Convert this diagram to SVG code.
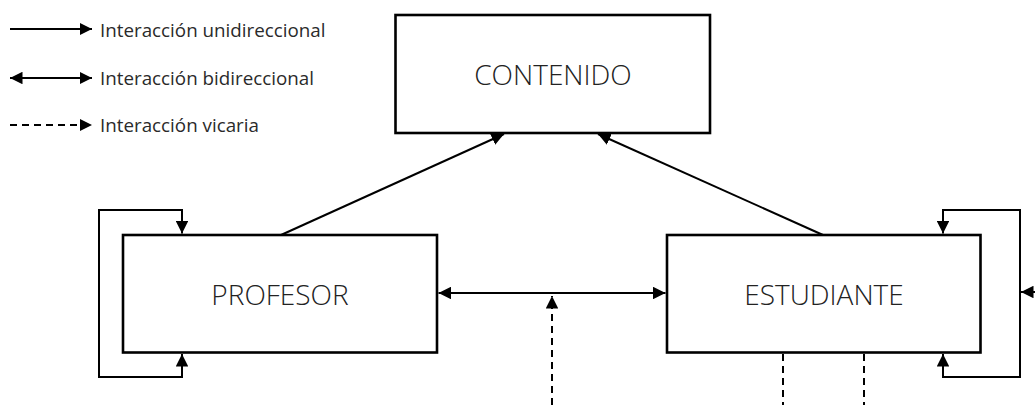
<svg xmlns="http://www.w3.org/2000/svg" width="1035" height="405" viewBox="0 0 1035 405">
<style>
.box{fill:#fff;stroke:#000;stroke-width:2.6}
.lbl{font-family:"Open Sans","Liberation Sans",sans-serif;font-weight:300;font-size:28px;fill:#222;text-anchor:middle;dominant-baseline:central}
.leg{font-family:"Open Sans","Liberation Sans",sans-serif;font-size:18.8px;fill:#2a2a2a}
.c{fill:none;stroke:#000;stroke-width:2}
.d{stroke-dasharray:7 5}
</style>
<defs>
<marker id="ah" viewBox="0 0 12 12" refX="12" refY="6" markerWidth="12.5" markerHeight="12.5" markerUnits="userSpaceOnUse" orient="auto-start-reverse">
<path d="M0,0 L12,6 L0,12 z" fill="#000"/>
</marker>
</defs>
<g id="legend">
<path class="c" d="M10,29 L92,29" marker-end="url(#ah)"/>
<text class="leg" x="100" y="37">Interacción unidireccional</text>
<path class="c" d="M10,78 L92,78" marker-start="url(#ah)" marker-end="url(#ah)"/>
<text class="leg" x="100" y="85">Interacción bidireccional</text>
<path class="c d" d="M10,125 L92,125" marker-end="url(#ah)"/>
<text class="leg" x="100" y="132">Interacción vicaria</text>
</g>
<g id="contenido">
<rect class="box" x="395.5" y="15" width="314.5" height="118"/>
<text class="lbl" x="553" y="74">CONTENIDO</text>
</g>
<g id="profesor">
<rect class="box" x="123" y="235" width="314" height="117.5"/>
<text class="lbl" x="280" y="294">PROFESOR</text>
</g>
<g id="estudiante">
<rect class="box" x="667" y="235" width="313.5" height="117.5"/>
<text class="lbl" x="824" y="294">ESTUDIANTE</text>
</g>
<g id="connectors">
<path class="c" d="M281,235 L504,134" marker-end="url(#ah)"/>
<path class="c" d="M823,235 L598,134" marker-end="url(#ah)"/>
<path class="c" d="M438.5,293 L665.5,293" marker-start="url(#ah)" marker-end="url(#ah)"/>
<path class="c" d="M182,354 L182,377 L99,377 L99,210 L182,210 L182,233.5" marker-start="url(#ah)" marker-end="url(#ah)"/>
<path class="c" d="M943,354 L943,377 L1020,377 L1020,210 L943,210 L943,233.5" marker-start="url(#ah)" marker-end="url(#ah)"/>
<path class="c" d="M1035,292 L1021,292" marker-end="url(#ah)"/>
<path class="c d" d="M552,405 L552,296" marker-end="url(#ah)"/>
<path class="c d" d="M783,354 L783,405"/>
<path class="c d" d="M864,354 L864,405"/>
</g>
</svg>
